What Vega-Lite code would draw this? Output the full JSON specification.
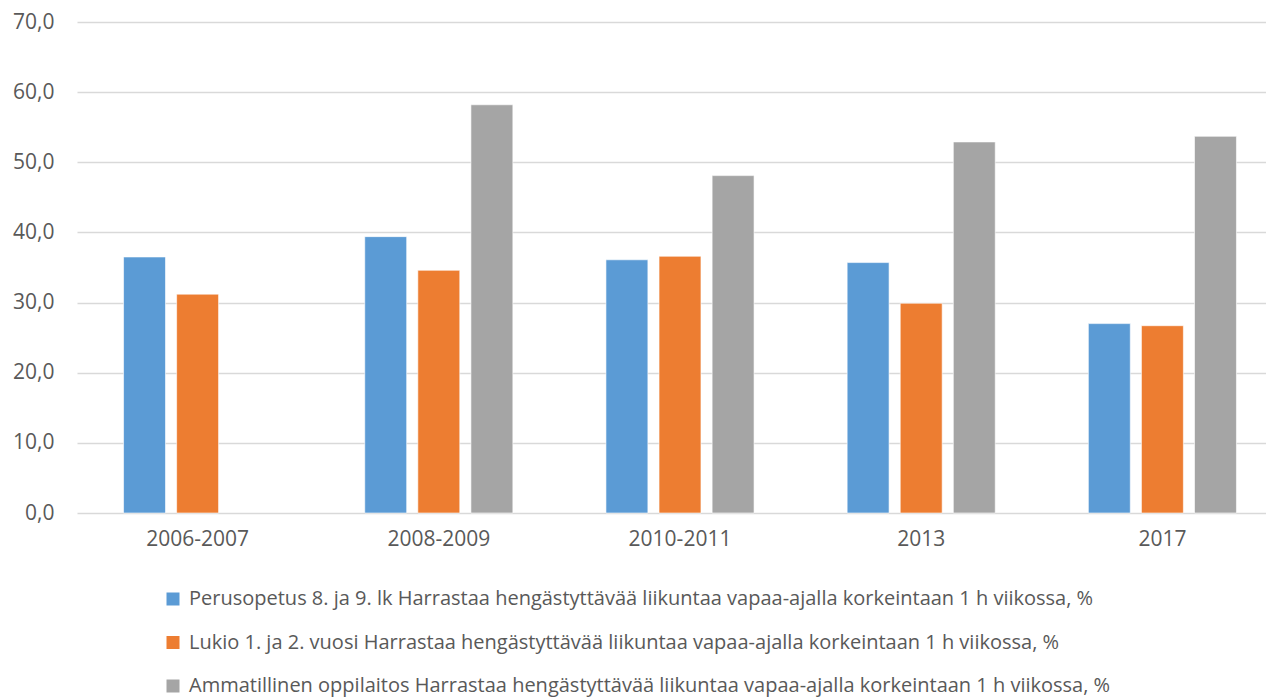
{
  "$schema": "https://vega.github.io/schema/vega-lite/v6.json",
  "width": 1189,
  "height": 491,
  "autosize": {"type": "none"},
  "padding": {"left": 77, "top": 22, "right": 0, "bottom": 187},
  "background": "white",
  "config": {
    "view": {"stroke": null},
    "font": "Open Sans"
  },
  "data": {
    "values": [
      {"period": "2006-2007", "series": "Perusopetus 8. ja 9. lk Harrastaa hengästyttävää liikuntaa vapaa-ajalla korkeintaan 1 h viikossa, %", "value": 36.5},
      {"period": "2006-2007", "series": "Lukio 1. ja 2. vuosi Harrastaa hengästyttävää liikuntaa vapaa-ajalla korkeintaan 1 h viikossa, %", "value": 31.2},
      {"period": "2008-2009", "series": "Perusopetus 8. ja 9. lk Harrastaa hengästyttävää liikuntaa vapaa-ajalla korkeintaan 1 h viikossa, %", "value": 39.4},
      {"period": "2008-2009", "series": "Lukio 1. ja 2. vuosi Harrastaa hengästyttävää liikuntaa vapaa-ajalla korkeintaan 1 h viikossa, %", "value": 34.6},
      {"period": "2008-2009", "series": "Ammatillinen oppilaitos Harrastaa hengästyttävää liikuntaa vapaa-ajalla korkeintaan 1 h viikossa, %", "value": 58.2},
      {"period": "2010-2011", "series": "Perusopetus 8. ja 9. lk Harrastaa hengästyttävää liikuntaa vapaa-ajalla korkeintaan 1 h viikossa, %", "value": 36.1},
      {"period": "2010-2011", "series": "Lukio 1. ja 2. vuosi Harrastaa hengästyttävää liikuntaa vapaa-ajalla korkeintaan 1 h viikossa, %", "value": 36.6},
      {"period": "2010-2011", "series": "Ammatillinen oppilaitos Harrastaa hengästyttävää liikuntaa vapaa-ajalla korkeintaan 1 h viikossa, %", "value": 48.1},
      {"period": "2013", "series": "Perusopetus 8. ja 9. lk Harrastaa hengästyttävää liikuntaa vapaa-ajalla korkeintaan 1 h viikossa, %", "value": 35.7},
      {"period": "2013", "series": "Lukio 1. ja 2. vuosi Harrastaa hengästyttävää liikuntaa vapaa-ajalla korkeintaan 1 h viikossa, %", "value": 29.9},
      {"period": "2013", "series": "Ammatillinen oppilaitos Harrastaa hengästyttävää liikuntaa vapaa-ajalla korkeintaan 1 h viikossa, %", "value": 52.9},
      {"period": "2017", "series": "Perusopetus 8. ja 9. lk Harrastaa hengästyttävää liikuntaa vapaa-ajalla korkeintaan 1 h viikossa, %", "value": 27.0},
      {"period": "2017", "series": "Lukio 1. ja 2. vuosi Harrastaa hengästyttävää liikuntaa vapaa-ajalla korkeintaan 1 h viikossa, %", "value": 26.7},
      {"period": "2017", "series": "Ammatillinen oppilaitos Harrastaa hengästyttävää liikuntaa vapaa-ajalla korkeintaan 1 h viikossa, %", "value": 53.7}
    ]
  },
  "mark": {"type": "bar", "stroke": "white", "strokeWidth": 0.6},
  "encoding": {
    "x": {
      "field": "period",
      "type": "nominal",
      "sort": ["2006-2007", "2008-2009", "2010-2011", "2013", "2017"],
      "scale": {"range": [0, 1206], "paddingInner": 0.386, "paddingOuter": 0.193},
      "axis": {
        "title": null,
        "labelAngle": 0,
        "labelFontSize": 21,
        "labelColor": "#595959",
        "labelPadding": 15,
        "ticks": false,
        "domain": false,
        "grid": false
      }
    },
    "xOffset": {
      "field": "series",
      "type": "nominal",
      "scale": {
        "domain": [
          "Perusopetus 8. ja 9. lk Harrastaa hengästyttävää liikuntaa vapaa-ajalla korkeintaan 1 h viikossa, %",
          "Lukio 1. ja 2. vuosi Harrastaa hengästyttävää liikuntaa vapaa-ajalla korkeintaan 1 h viikossa, %",
          "Ammatillinen oppilaitos Harrastaa hengästyttävää liikuntaa vapaa-ajalla korkeintaan 1 h viikossa, %"
        ],
        "paddingInner": 0.21,
        "paddingOuter": 0
      }
    },
    "y": {
      "field": "value",
      "type": "quantitative",
      "scale": {"domain": [0, 70], "nice": false},
      "axis": {
        "title": null,
        "values": [0, 10, 20, 30, 40, 50, 60, 70],
        "labelExpr": "replace(format(datum.value, '.1f'), '.', ',')",
        "labelFontSize": 21,
        "labelColor": "#595959",
        "labelPadding": 23,
        "ticks": false,
        "domain": false,
        "gridColor": "#d9d9d9",
        "gridWidth": 1.3
      }
    },
    "color": {
      "field": "series",
      "type": "nominal",
      "scale": {
        "domain": [
          "Perusopetus 8. ja 9. lk Harrastaa hengästyttävää liikuntaa vapaa-ajalla korkeintaan 1 h viikossa, %",
          "Lukio 1. ja 2. vuosi Harrastaa hengästyttävää liikuntaa vapaa-ajalla korkeintaan 1 h viikossa, %",
          "Ammatillinen oppilaitos Harrastaa hengästyttävää liikuntaa vapaa-ajalla korkeintaan 1 h viikossa, %"
        ],
        "range": ["#5B9BD5", "#ED7D31", "#A5A5A5"]
      },
      "legend": {
        "title": null,
        "orient": "none",
        "legendX": 86,
        "legendY": 567,
        "direction": "vertical",
        "symbolType": "square",
        "symbolSize": 169,
        "symbolStrokeWidth": 0,
        "labelFontSize": 20,
        "labelColor": "#595959",
        "labelLimit": 1200,
        "labelOffset": 6,
        "rowPadding": 23.5
      }
    }
  }
}
